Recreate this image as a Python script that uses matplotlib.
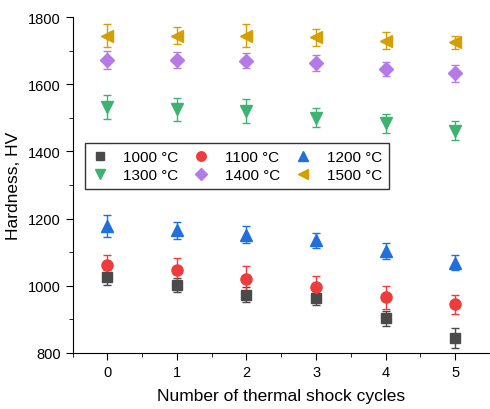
import matplotlib.pyplot as plt
from matplotlib.lines import Line2D
from matplotlib.ticker import MultipleLocator

plt.rcParams['font.family'] = ['Liberation Sans', 'DejaVu Sans']

cycles = [0, 1, 2, 3, 4, 5]
temps = ['1000 °C', '1100 °C', '1200 °C', '1300 °C', '1400 °C', '1500 °C']

hv_1000 = [1025, 1002, 973, 963, 903, 845]
err_1000 = [22, 22, 22, 22, 22, 30]
hv_1100 = [1063, 1048, 1020, 995, 965, 945]
err_1100 = [28, 33, 38, 33, 33, 28]
hv_1200 = [1178, 1165, 1152, 1135, 1103, 1068]
err_1200 = [32, 25, 25, 22, 25, 22]
hv_1300 = [1532, 1525, 1520, 1500, 1483, 1462]
err_1300 = [35, 35, 35, 28, 28, 27]
hv_1400 = [1673, 1672, 1670, 1663, 1645, 1632]
err_1400 = [27, 25, 22, 25, 20, 25]
hv_1500 = [1745, 1745, 1745, 1740, 1730, 1725]
err_1500 = [35, 25, 33, 25, 25, 20]

series = [hv_1000, hv_1100, hv_1200, hv_1300, hv_1400, hv_1500]
errors = [err_1000, err_1100, err_1200, err_1300, err_1400, err_1500]
colors = ['#4a4a4a', '#ee3b3b', '#1f6fdc', '#3cb371', '#b47be6', '#d4a000']
markers = ['s', 'o', '^', 'v', 'D', '<']
sizes = [6.5, 8, 8, 8, 7, 8]

fig = plt.figure(figsize=(4.9, 4.1), dpi=100)
ax = fig.add_axes([0.148, 0.137, 0.852, 0.819])

handles = []
for y, e, c, m, s, lab in zip(series, errors, colors, markers, sizes, temps):
    ax.errorbar(cycles, y, yerr=e, fmt=m, color=c, ms=s, mec=c,
                ecolor=c, elinewidth=1.0, capsize=3, capthick=1.0)
    # marker-only proxy for the legend
    handles.append(Line2D([], [], ls='none', marker=m, color=c, mec=c,
                          ms=s * 0.85, label=lab))

ax.set_xlim(-0.5, 5.5)
ax.set_ylim(800, 1800)
ax.xaxis.set_major_locator(MultipleLocator(1))
ax.xaxis.set_minor_locator(MultipleLocator(0.5))
ax.yaxis.set_major_locator(MultipleLocator(200))
ax.yaxis.set_minor_locator(MultipleLocator(100))
ax.tick_params(which='both', direction='out', labelsize=10.5)
ax.tick_params(which='major', length=5)
ax.tick_params(which='minor', length=3)
for side in ['top', 'right']:
    ax.spines[side].set_visible(False)

ax.set_xlabel('Number of thermal shock cycles', fontsize=12.5, labelpad=7)
ax.set_ylabel('Hardness, HV', fontsize=12.5, labelpad=5)

# row-major order for a 3-column legend
order = [0, 3, 1, 4, 2, 5]
leg = ax.legend([handles[i] for i in order], [temps[i] for i in order],
                ncol=3, loc='upper left',
                bbox_to_anchor=(85 / 490, 1 - 144 / 410),
                bbox_transform=fig.transFigure, borderaxespad=0,
                fontsize=11, frameon=True, fancybox=False, edgecolor='black',
                handlelength=1.0, handletextpad=1.05, columnspacing=1.0,
                borderpad=0.45, labelspacing=0.3)
leg.get_frame().set_linewidth(1.0)

fig.savefig('out.png', dpi=100)
